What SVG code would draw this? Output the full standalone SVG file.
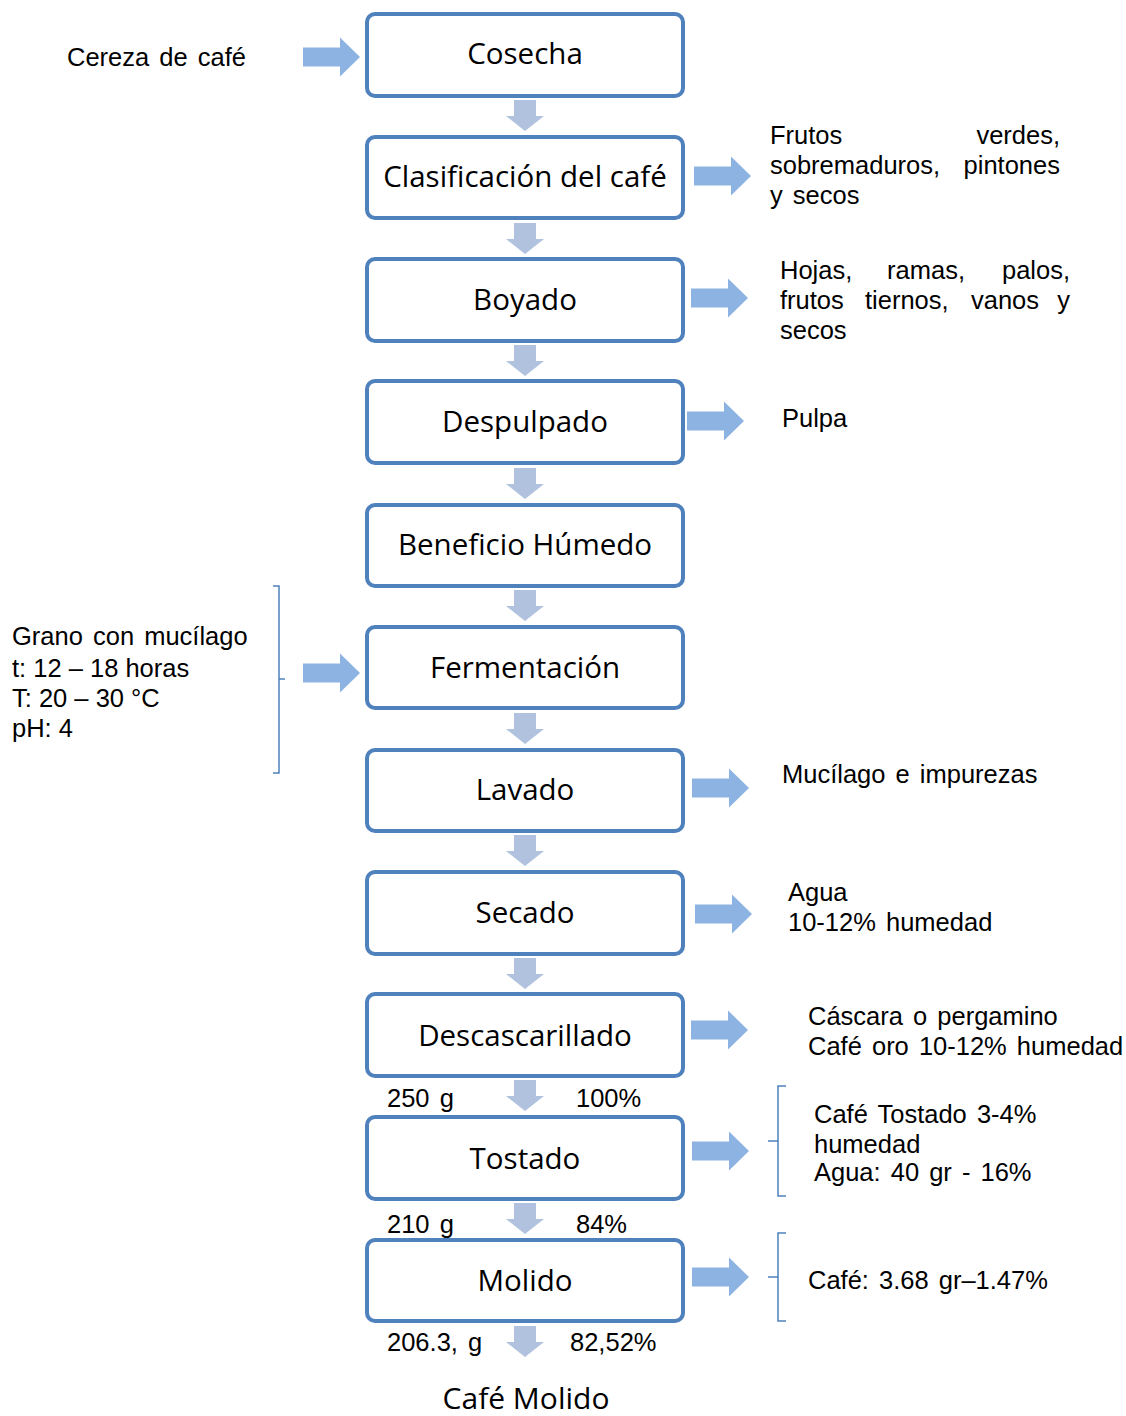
<svg xmlns="http://www.w3.org/2000/svg" width="1126" height="1416" viewBox="0 0 1126 1416">
<style>
.box{fill:#fff;stroke:#4F81BD;stroke-width:4}
.lbl{font-family:"Open Sans","Noto Sans",sans-serif;font-size:29.5px;fill:#000;text-anchor:middle}
.t{font-family:"Liberation Sans",Arial,sans-serif;font-size:25.5px;fill:#000;word-spacing:3px}
.n{word-spacing:0}
.e{text-anchor:end}
.m{text-anchor:middle}
.down{fill:#B0C2DE}
.side{fill:#8DB3E2}
.br{fill:none;stroke:#4F81BD;stroke-width:1.5}
</style>
<defs>
<path id="dn" d="M-11,0 h22 v16 h8 l-19,15 l-19,-15 h8 z"/>
<path id="rt" d="M0,-9.5 h37 v-10 l20,19.5 l-20,19.5 v-10 h-37 z"/>
</defs>
<rect width="1126" height="1416" fill="#fff"/>
<g id="connectors">
<use href="#dn" class="down" x="525" y="100"/>
<use href="#dn" class="down" x="525" y="223"/>
<use href="#dn" class="down" x="525" y="345"/>
<use href="#dn" class="down" x="525" y="468"/>
<use href="#dn" class="down" x="525" y="590"/>
<use href="#dn" class="down" x="525" y="713"/>
<use href="#dn" class="down" x="525" y="835"/>
<use href="#dn" class="down" x="525" y="958"/>
<use href="#dn" class="down" x="525" y="1080"/>
<use href="#dn" class="down" x="525" y="1203"/>
<use href="#dn" class="down" x="525" y="1326"/>
<use href="#rt" class="side" x="303" y="57"/>
<use href="#rt" class="side" x="694" y="176"/>
<use href="#rt" class="side" x="691" y="298"/>
<use href="#rt" class="side" x="687" y="421"/>
<use href="#rt" class="side" x="303" y="673"/>
<use href="#rt" class="side" x="692" y="788"/>
<use href="#rt" class="side" x="695" y="914"/>
<use href="#rt" class="side" x="691" y="1030"/>
<use href="#rt" class="side" x="692" y="1151"/>
<use href="#rt" class="side" x="692" y="1277"/>
<path class="br" d="M273,586 H279 V773 H273 M279,679 H285"/>
<path class="br" d="M786,1086 H778 V1196 H786 M778,1141 H768"/>
<path class="br" d="M786,1233 H778 V1321 H786 M778,1277 H768"/>
</g>
<g id="n-cosecha"><rect class="box" x="367" y="14" width="316" height="82" rx="8"/><text class="lbl" x="525" y="64">Cosecha</text></g>
<g id="n-clasificacion"><rect class="box" x="367" y="137" width="316" height="81" rx="8"/><text class="lbl" x="525" y="187">Clasificación del café</text></g>
<g id="n-boyado"><rect class="box" x="367" y="259" width="316" height="82" rx="8"/><text class="lbl" x="525" y="310">Boyado</text></g>
<g id="n-despulpado"><rect class="box" x="367" y="381" width="316" height="82" rx="8"/><text class="lbl" x="525" y="432">Despulpado</text></g>
<g id="n-beneficio"><rect class="box" x="367" y="505" width="316" height="81" rx="8"/><text class="lbl" x="525" y="555">Beneficio Húmedo</text></g>
<g id="n-fermentacion"><rect class="box" x="367" y="627" width="316" height="81" rx="8"/><text class="lbl" x="525" y="678">Fermentación</text></g>
<g id="n-lavado"><rect class="box" x="367" y="750" width="316" height="81" rx="8"/><text class="lbl" x="525" y="800">Lavado</text></g>
<g id="n-secado"><rect class="box" x="367" y="872" width="316" height="82" rx="8"/><text class="lbl" x="525" y="923">Secado</text></g>
<g id="n-descascarillado"><rect class="box" x="367" y="994" width="316" height="82" rx="8"/><text class="lbl" x="525" y="1046">Descascarillado</text></g>
<g id="n-tostado"><rect class="box" x="367" y="1117" width="316" height="82" rx="8"/><text class="lbl" x="525" y="1169">Tostado</text></g>
<g id="n-molido"><rect class="box" x="367" y="1240" width="316" height="81" rx="8"/><text class="lbl" x="525" y="1291">Molido</text></g>
<g id="labels">
<text class="t" x="67" y="66">Cereza de café</text>
<text class="t" x="770" y="144">Frutos</text>
<text class="t e" x="1060" y="144">verdes,</text>
<text class="t" x="770" y="174">sobremaduros,</text>
<text class="t e" x="1060" y="174">pintones</text>
<text class="t" x="770" y="204">y secos</text>
<text class="t" x="780" y="279">Hojas,</text>
<text class="t m" x="926" y="279">ramas,</text>
<text class="t e" x="1070" y="279">palos,</text>
<text class="t" x="780" y="309">frutos</text>
<text class="t" x="865" y="309">tiernos,</text>
<text class="t" x="971" y="309">vanos</text>
<text class="t e" x="1070" y="309">y</text>
<text class="t" x="780" y="339">secos</text>
<text class="t" x="782" y="427">Pulpa</text>
<text class="t" x="12" y="645">Grano con mucílago</text>
<text class="t n" x="12" y="677">t: 12 – 18 horas</text>
<text class="t n" x="12" y="707">T: 20 – 30 °C</text>
<text class="t n" x="12" y="737">pH: 4</text>
<text class="t" x="782" y="783">Mucílago e impurezas</text>
<text class="t" x="788" y="901">Agua</text>
<text class="t" x="788" y="931">10-12% humedad</text>
<text class="t" x="808" y="1025">Cáscara o pergamino</text>
<text class="t" x="808" y="1055">Café oro 10-12% humedad</text>
<text class="t" x="387" y="1107">250 g</text>
<text class="t" x="576" y="1107">100%</text>
<text class="t" x="814" y="1123">Café Tostado 3-4%</text>
<text class="t" x="814" y="1153">humedad</text>
<text class="t" x="814" y="1181">Agua: 40 gr - 16%</text>
<text class="t" x="387" y="1233">210 g</text>
<text class="t" x="576" y="1233">84%</text>
<text class="t" x="808" y="1289">Café: 3.68 gr–1.47%</text>
<text class="t" x="387" y="1351">206.3, g</text>
<text class="t" x="570" y="1351">82,52%</text>
<text class="lbl" x="526" y="1409" style="font-size:30px">Café Molido</text>
</g>
</svg>
